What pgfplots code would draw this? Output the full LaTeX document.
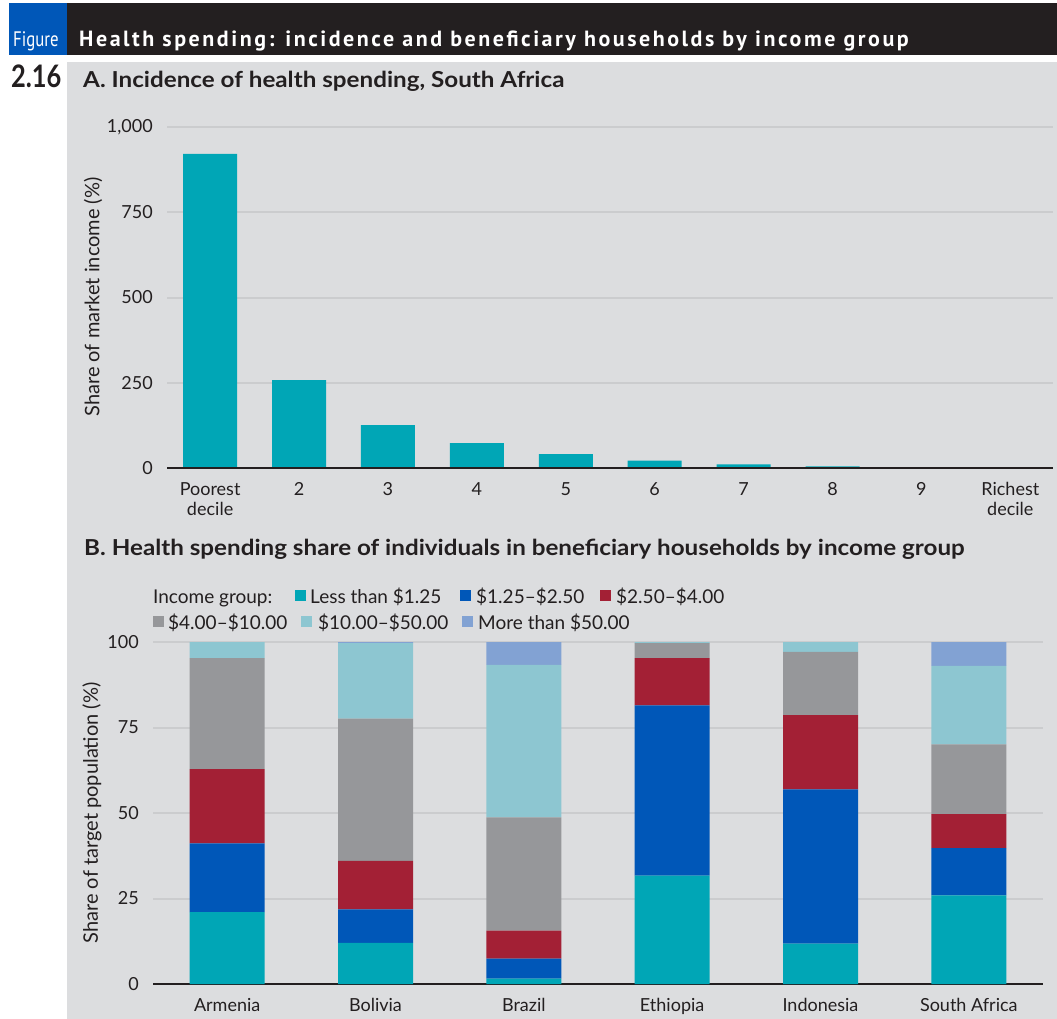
\documentclass[border=0pt]{standalone}
\usepackage{pgfplots}
\pgfplotsset{compat=1.18}
\usepackage{fontspec}
\setmainfont{Lato}
\newfontfamily\headfont[LetterSpace=11.5]{PT Sans}
\newfontfamily\figfont{PT Sans}
\definecolor{cteal}{HTML}{00A6B6}
\definecolor{cblue}{HTML}{0057B8}
\definecolor{cred}{HTML}{A32035}
\definecolor{cgray}{HTML}{96979A}
\definecolor{clight}{HTML}{8DC6D1}
\definecolor{cperi}{HTML}{82A2D3}
\definecolor{bggray}{HTML}{DCDDDF}
\definecolor{gridgray}{HTML}{CBCCCE}
\definecolor{dtext}{HTML}{231F20}
\definecolor{figblue}{HTML}{0057B8}
\pgfplotsset{
  mystyle/.style={
    scale only axis,
    axis line style={draw=none},
    major tick length=0pt,
    ymajorgrids,
    grid style={line width=2pt, gridgray},
    clip=false,
    /pgf/number format/assume math mode=true,
    /pgf/number format/1000 sep={,},
    tick label style={font=\fontsize{18}{20}\selectfont, text=dtext},
    y tick label style={anchor=east, inner sep=0pt, xshift=-14pt},
    x tick label style={anchor=north, inner sep=0pt, yshift=-14pt, align=center},
  }
}
\begin{document}
\begin{tikzpicture}
\fill[white] (0pt,0pt) rectangle (1057pt,-1019pt);
\fill[figblue] (9pt,-3pt) rectangle (67pt,-55pt);
\fill[dtext] (67pt,-3pt) rectangle (1057pt,-55pt);
\fill[bggray] (67pt,-62pt) rectangle (1057pt,-1019pt);
\node[anchor=base west, inner sep=0pt, text=white, font=\figfont\fontsize{21}{22}\selectfont] at (13pt,-47pt) {\scalebox{0.8}[1]{Figure}};
\node[anchor=base west, inner sep=0pt, text=white, font=\headfont\bfseries\fontsize{22}{24}\selectfont] at (79pt,-47pt) {Health spending: incidence and beneficiary households by income group};
\node[anchor=base west, inner sep=0pt, text=dtext, font=\bfseries\fontsize{31}{32}\selectfont] at (11pt,-88pt) {\scalebox{0.82}[1]{2.16}};
\node[anchor=base west, inner sep=0pt, text=dtext, font=\bfseries\fontsize{22}{24}\selectfont] at (83pt,-88pt) {\scalebox{1.1}[1]{A. Incidence of health spending, South Africa}};
\node[anchor=base west, inner sep=0pt, text=dtext, font=\bfseries\fontsize{22}{24}\selectfont] at (84pt,-555pt) {\scalebox{1.1}[1]{B. Health spending share of individuals in beneficiary households by income group}};
% y labels
\node[rotate=90, text=dtext, font=\fontsize{20}{22}\selectfont] at (93pt,-297pt) {Share of market income (\%)};
\node[rotate=90, text=dtext, font=\fontsize{20}{22}\selectfont] at (92pt,-813pt) {Share of target population (\%)};
% legend
\begin{scope}[font=\fontsize{19}{20}\selectfont, text=dtext]
\node[anchor=base west, inner sep=0pt] at (153pt,-603pt) {Income group:};
\fill[cteal] (295pt,-590pt) rectangle (306pt,-601pt);
\node[anchor=base west, inner sep=0pt] at (310pt,-603pt) {Less than \$1.25};
\fill[cblue] (460pt,-590pt) rectangle (471pt,-601pt);
\node[anchor=base west, inner sep=0pt] at (476pt,-603pt) {\$1.25–\$2.50};
\fill[cred] (600pt,-590pt) rectangle (611pt,-601pt);
\node[anchor=base west, inner sep=0pt] at (616pt,-603pt) {\$2.50–\$4.00};
\fill[cgray] (153pt,-616pt) rectangle (164pt,-627pt);
\node[anchor=base west, inner sep=0pt] at (168pt,-629pt) {\$4.00–\$10.00};
\fill[clight] (301pt,-616pt) rectangle (312pt,-627pt);
\node[anchor=base west, inner sep=0pt] at (318pt,-629pt) {\$10.00–\$50.00};
\fill[cperi] (462pt,-616pt) rectangle (473pt,-627pt);
\node[anchor=base west, inner sep=0pt] at (478pt,-629pt) {More than \$50.00};
\end{scope}
% Panel A
\begin{axis}[mystyle,
  at={(167pt,-468pt)}, anchor=south west,
  width=886pt, height=341pt,
  xmin=-0.485, xmax=9.48, ymin=0, ymax=1000,
  ybar, bar width=54pt,
  ytick={0,250,500,750,1000},
  xtick={0,...,9},
  xticklabels={{Poorest\\decile},2,3,4,5,6,7,8,9,{Richest\\decile}},
]
\addplot[fill=cteal, draw=none] coordinates {(0,921) (1,258) (2,126) (3,73) (4,41) (5,22) (6,11) (7,5) (8,1.2) (9,0.4)};
\draw[dtext, line width=2.5pt] (rel axis cs:0,0) -- (rel axis cs:1,0);
\end{axis}
% Panel B
\begin{axis}[mystyle,
  at={(153pt,-984pt)}, anchor=south west,
  width=890pt, height=342pt,
  xmin=-0.5, xmax=5.5, ymin=0, ymax=100,
  ybar stacked, bar width=75pt,
  ytick={0,25,50,75,100},
  xtick={0,...,5},
  xticklabels={Armenia,Bolivia,Brazil,Ethiopia,Indonesia,South Africa},
]
\addplot[fill=cteal, draw=none] coordinates {(0,21) (1,12) (2,1.6) (3,31.7) (4,11.8) (5,25.9)};
\addplot[fill=cblue, draw=none] coordinates {(0,20.1) (1,9.8) (2,5.8) (3,49.8) (4,45.1) (5,13.8)};
\addplot[fill=cred, draw=none] coordinates {(0,21.7) (1,14.2) (2,8.2) (3,13.8) (4,21.7) (5,10.0)};
\addplot[fill=cgray, draw=none] coordinates {(0,32.5) (1,41.6) (2,33.1) (3,4.4) (4,18.5) (5,20.4)};
\addplot[fill=clight, draw=none] coordinates {(0,4.7) (1,22.1) (2,44.6) (3,0.3) (4,2.9) (5,22.9)};
\addplot[fill=cperi, draw=none] coordinates {(0,0) (1,0.3) (2,6.7) (3,0) (4,0) (5,7.0)};
\draw[dtext, line width=2.5pt] (rel axis cs:0,0) -- (rel axis cs:1,0);
\end{axis}
\pgfresetboundingbox
\path (0pt,0pt) rectangle (1057pt,-1019pt);
\end{tikzpicture}
\end{document}
